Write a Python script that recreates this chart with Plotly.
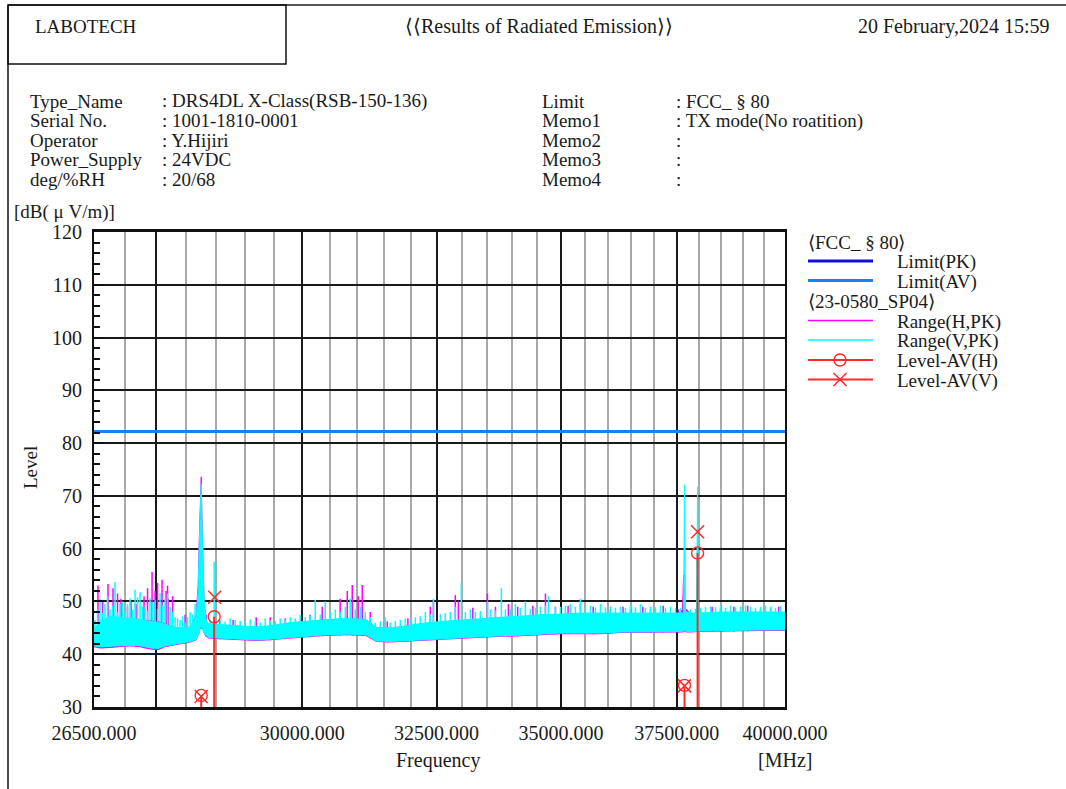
import numpy as np
import plotly.graph_objects as go

# ---------------------------------------------------------------------------
# Spectrum envelopes (MHz, dB(uV/m)) for the two antenna polarisations
# ---------------------------------------------------------------------------
band_freq = [26500, 26595, 26754, 26914, 27075, 27237, 27400, 27531, 27663, 27812,
             27978, 28063, 28163, 28197, 28214, 28231, 28248, 28264, 28281, 28298,
             28332, 28366, 28467, 28603, 28740, 29000, 29258, 29500, 29786, 30050,
             30325, 30780, 31150, 31242, 31354, 31617, 31805, 32186, 32574, 32984,
             33362, 33780, 34166, 34576, 35000, 35410, 35835, 36265, 36700, 37141,
             37541, 37631, 37654, 37675, 37698, 37721, 37815, 37901, 37946, 37970,
             37992, 38037, 38493, 38955, 39422, 40000]

v_low = [41.6, 41.4, 41.5, 41.6, 41.7, 41.6, 41.2, 41.1, 41.6, 41.9,
         42.2, 42.4, 42.8, 43.5, 44.0, 45.0, 45.0, 45.0, 44.5, 44.0,
         43.5, 43.2, 43.1, 43.0, 42.9, 42.8, 42.7, 42.9, 43.1, 43.3,
         43.6, 43.8, 43.7, 43.2, 42.5, 42.4, 42.5, 42.8, 43.0, 43.2,
         43.4, 43.5, 43.6, 43.8, 44.0, 44.0, 44.0, 44.2, 44.2, 44.3,
         44.3, 44.3, 44.4, 44.5, 44.4, 44.3, 44.3, 44.4, 44.4, 44.4,
         44.4, 44.4, 44.5, 44.5, 44.6, 44.6]
v_high = [44.8, 46.2, 47.2, 47.0, 46.8, 46.6, 46.2, 46.0, 45.6, 45.0,
          45.0, 45.2, 47.0, 52.0, 60.0, 68.0, 72.3, 63.0, 56.0, 50.0,
          46.5, 45.8, 45.7, 45.6, 45.4, 45.3, 45.2, 45.5, 46.0, 46.2,
          46.5, 46.8, 46.6, 46.0, 45.1, 45.0, 45.2, 45.8, 46.2, 46.5,
          46.8, 47.0, 47.2, 47.5, 47.6, 47.8, 47.8, 47.8, 47.8, 47.8,
          47.8, 47.8, 48.0, 72.1, 48.2, 48.0, 47.8, 47.8, 48.0, 71.7,
          48.0, 47.8, 48.0, 48.0, 48.0, 48.0]

h_low = [41.3, 41.1, 41.2, 41.4, 41.5, 41.3, 40.9, 40.8, 41.4, 41.7,
         42.0, 42.2, 42.6, 43.3, 43.8, 44.8, 44.8, 44.8, 44.3, 43.8,
         43.3, 43.0, 42.9, 42.8, 42.7, 42.6, 42.5, 42.7, 42.9, 43.1,
         43.4, 43.6, 43.5, 43.0, 42.3, 42.2, 42.3, 42.6, 42.8, 43.0,
         43.2, 43.3, 43.4, 43.6, 43.8, 43.8, 43.8, 44.0, 44.0, 44.1,
         44.1, 44.1, 44.2, 44.3, 44.2, 44.1, 44.1, 44.2, 44.2, 44.2,
         44.2, 44.2, 44.3, 44.3, 44.4, 44.4]
h_high = [44.6, 46.0, 47.0, 46.8, 46.6, 46.5, 46.4, 46.2, 45.8, 45.0,
          44.8, 45.0, 47.5, 53.0, 61.0, 69.0, 73.6, 64.0, 55.0, 49.5,
          46.0, 45.6, 45.6, 45.4, 45.3, 45.2, 45.1, 45.4, 45.8, 46.0,
          46.4, 46.7, 46.6, 46.0, 45.0, 45.0, 45.1, 45.6, 46.0, 46.3,
          46.6, 46.8, 47.0, 47.3, 47.4, 47.6, 47.6, 47.6, 47.6, 47.6,
          47.6, 48.5, 55.0, 52.0, 48.0, 48.5, 47.6, 47.6, 47.8, 50.0,
          47.8, 47.6, 47.8, 47.8, 47.8, 47.8]

# narrow peaks rising out of the noise floor (horizontal polarisation)
h_spike_freq = [26563, 26635, 26722, 26802, 26874, 26930, 27034, 27091, 27172, 27302,
                27359, 27433, 27482, 27523, 27597, 27663, 27687, 27696, 27770, 27978,
                28332, 28560, 28790, 29189, 29434, 29700, 30143, 30360, 30687, 30816,
                30908, 31018, 31093, 31242, 31560, 31950, 32380, 32440, 32866, 32926,
                33210, 33501, 33661, 33922, 34110, 34420, 34679, 34886, 35150, 35410,
                35680, 36049, 36320, 36482, 36750, 36920, 37200, 37541, 38037, 38300,
                38493, 38800, 39120, 39422, 39659, 39850]
h_spike_level = [53.0, 50.0, 53.3, 52.5, 51.5, 50.5, 49.0, 50.0, 49.5, 51.0,
                 52.5, 55.6, 52.0, 53.5, 54.1, 52.0, 53.0, 50.5, 51.0, 47.5,
                 47.5, 46.6, 46.5, 47.0, 47.0, 46.8, 47.5, 49.0, 50.5, 52.0,
                 53.1, 51.0, 53.1, 48.0, 46.2, 46.8, 49.0, 50.0, 51.2, 50.0,
                 48.8, 51.5, 49.0, 49.5, 49.0, 49.2, 51.5, 49.0, 49.2, 49.5,
                 49.0, 48.5, 49.0, 48.5, 49.0, 48.5, 49.2, 48.5, 48.5, 49.0,
                 48.7, 49.0, 49.2, 48.5, 48.8, 49.0]

# narrow peaks rising out of the noise floor (vertical polarisation)
v_spike_freq = [26516, 26556, 26595, 26635, 26674, 26714, 26754, 26794, 26834, 26874,
                26914, 26954, 26994, 27034, 27075, 27115, 27156, 27197, 27237, 27278,
                27318, 27359, 27400, 27441, 27482, 27523, 27564, 27605, 27646, 27687,
                27729, 27770, 27812, 27853, 27895, 27937, 27978, 28020, 28062, 28104,
                28146, 28314, 28399, 28467, 28569, 28654, 28740, 28826, 28912, 28998,
                29085, 29172, 29259, 29346, 29434, 29522, 29610, 29698, 29787, 29876,
                29965, 30054, 30144, 30234, 30324, 30415, 30506, 30597, 30688, 30780,
                30872, 30964, 31056, 31149, 31242, 31335, 31429, 31523, 31617, 31711,
                31806, 31901, 31996, 32092, 32187, 32284, 32380, 32440, 32574, 32671,
                32769, 32867, 32984, 33063, 33162, 33261, 33360, 33501, 33560, 33660,
                33780, 33861, 33962, 34063, 34165, 34267, 34369, 34472, 34575, 34678,
                34741, 34885, 34989, 35094, 35199, 35304, 35409, 35515, 35621, 35727,
                35834, 35941, 36048, 36156, 36264, 36372, 36481, 36590, 36699, 36808,
                36918, 37028, 37139, 37250, 37361, 37473, 37585, 37810, 37922, 38036,
                38149, 38263, 38377, 38492, 38607, 38722, 38838, 38953, 39070, 39186,
                39303, 39421, 39538, 39657, 39775, 39894]
v_spike_level = [46.5, 48.5, 50.5, 47.8, 49.5, 51.0, 48.5, 49.2, 53.7, 48.0,
                 49.5, 50.0, 48.0, 49.5, 50.6, 48.5, 52.2, 50.8, 51.8, 49.0,
                 49.0, 48.2, 50.6, 49.8, 50.2, 48.6, 51.6, 49.2, 50.5, 51.5,
                 49.0, 48.0, 47.0, 46.8, 46.5, 47.2, 46.0, 47.0, 48.0, 47.5,
                 49.5, 47.5, 46.5, 57.5, 46.5, 46.2, 46.8, 46.5, 46.3, 46.0,
                 46.6, 46.2, 46.0, 46.8, 46.4, 46.3, 46.8, 46.6, 47.0, 46.8,
                 47.5, 47.0, 47.3, 50.3, 47.5, 50.0, 48.0, 48.5, 48.0, 49.0,
                 50.5, 48.5, 49.0, 48.0, 47.0, 46.0, 46.2, 47.0, 46.0, 46.3,
                 46.5, 46.8, 46.5, 47.0, 47.2, 48.0, 47.5, 50.5, 47.6, 47.8,
                 48.0, 49.0, 53.5, 48.0, 48.5, 48.0, 48.2, 50.0, 48.5, 48.3,
                 52.5, 48.5, 48.6, 49.5, 48.8, 50.0, 48.6, 48.8, 49.0, 49.3,
                 51.0, 48.9, 49.0, 49.2, 49.5, 49.0, 50.5, 49.0, 49.2, 48.8,
                 49.5, 48.9, 49.0, 48.8, 49.0, 48.8, 49.2, 48.9, 49.5, 48.8,
                 49.0, 48.9, 49.2, 48.8, 49.0, 48.7, 48.8, 48.5, 48.6, 48.8,
                 49.0, 49.0, 48.9, 49.2, 48.8, 49.2, 48.9, 49.0, 49.3, 49.0,
                 48.8, 49.0, 49.2, 49.0, 48.8, 49.1]

# final average measurements
lvl_h_freq = [28248, 28467, 37675, 37970]
lvl_h = [32.2, 47.1, 34.1, 59.2]
lvl_v_freq = [28248, 28475, 37675, 37970]
lvl_v = [32.0, 50.8, 34.0, 63.2]

# limit lines
limit_freq = [26500, 40000]
limit_pk = [82.2, 82.2]
limit_av = [82.2, 82.2]

# axes
X_MIN, X_MAX = 26500, 40000
Y_MIN, Y_MAX = 30, 120
x_tick_vals = [26500, 27500, 30000, 32500, 35000, 37500, 40000]
x_tick_text = ["26500.000", "", "30000.000", "32500.000", "35000.000", "37500.000", "40000.000"]
x_minor_vals = [27000, 28000, 28500, 29000, 29500, 30500, 31000, 31500, 32000, 33000,
                33500, 34000, 34500, 35500, 36000, 36500, 37000, 38000, 38500, 39000, 39500]

# header texts
info_left_labels = ["Type_Name", "Serial No.", "Operator", "Power_Supply", "deg/%RH"]
info_left_values = [": DRS4DL X-Class(RSB-150-136)", ": 1001-1810-0001", ": Y.Hijiri",
                    ": 24VDC", ": 20/68"]
info_right_labels = ["Limit", "Memo1", "Memo2", "Memo3", "Memo4"]
info_right_values = [": FCC_ § 80", ": TX mode(No roatition)", ":", ":", ":"]

FONT = "Liberation Serif"
TXT = "#1a1a1a"
MAGENTA = "#ff00ff"
CYAN = "#00ffff"
RED = "#ff2a2a"
BLUE_PK = "#1010d8"
BLUE_AV = "#1e7ef0"

W, H = 1066, 789
PL, PR, PT, PB = 94, 785, 232, 707  # plot area in page pixels

fig = go.Figure()

# limit lines
fig.add_trace(go.Scatter(x=limit_freq, y=limit_pk, mode="lines",
                         line=dict(color=BLUE_PK, width=3)))
fig.add_trace(go.Scatter(x=limit_freq, y=limit_av, mode="lines",
                         line=dict(color=BLUE_AV, width=3)))


def add_band(freq, low, high, s_freq, s_level, color, low_width):
    fig.add_trace(go.Scatter(x=freq, y=low, mode="lines",
                             line=dict(color=color, width=low_width)))
    fig.add_trace(go.Scatter(x=freq, y=high, mode="lines", fill="tonexty",
                             fillcolor=color, line=dict(color=color, width=1)))
    base = np.interp(np.log10(s_freq), np.log10(freq), low)
    xs, ys = [], []
    for f, b, lv in zip(s_freq, base, s_level):
        xs += [f, f, None]
        ys += [b, lv, None]
    fig.add_trace(go.Scatter(x=xs, y=ys, mode="lines",
                             line=dict(color=color, width=1.5)))


add_band(band_freq, h_low, h_high, h_spike_freq, h_spike_level, MAGENTA, 0)
add_band(band_freq, v_low, v_high, v_spike_freq, v_spike_level, CYAN, 1)

# stems for the horizontal-polarisation results
sx, sy = [], []
for f, lv in zip(lvl_h_freq, lvl_h):
    sx += [f, f, None]
    sy += [lv, Y_MIN, None]
fig.add_trace(go.Scatter(x=sx, y=sy, mode="lines", line=dict(color=RED, width=2)))
fig.add_trace(go.Scatter(x=lvl_h_freq, y=lvl_h, mode="markers",
                         marker=dict(symbol="circle-open", size=12, color=RED,
                                     line=dict(width=1.4, color=RED))))
fig.add_trace(go.Scatter(x=lvl_v_freq, y=lvl_v, mode="markers",
                         marker=dict(symbol="x-thin-open", size=13, color=RED,
                                     line=dict(width=1.5, color=RED))))

# ---------------------------------------------------------------------------
# page furniture in pixel coordinates (x2 / y2)
# ---------------------------------------------------------------------------
shapes = []
annotations = []


def seg(x0, y0, x1, y1, color, width):
    shapes.append(dict(type="line", xref="x2", yref="y2", x0=x0, y0=y0, x1=x1, y1=y1,
                       line=dict(color=color, width=width)))


def text(x, y, s, anchor="left", size=19, angle=0):
    annotations.append(dict(xref="x2", yref="y2", x=x, y=y, text=s, showarrow=False,
                            xanchor=anchor, yanchor="middle", textangle=angle,
                            font=dict(family=FONT, size=size, color=TXT)))


# frame
seg(8, 5, W, 5, "#555555", 2)
seg(8, 5, 8, H, "#111111", 1.5)
shapes.append(dict(type="rect", xref="x2", yref="y2", x0=8, y0=5, x1=286, y1=64,
                   line=dict(color="#111111", width=1.5)))

text(33, 26, "LABOTECH")
text(539, 26, "⟨⟨Results of Radiated Emission⟩⟩", anchor="center", size=20)
text(1051, 26, "20 February,2024 15:59", anchor="right", size=20)

row_y = [101, 120.5, 140, 159.5, 179]
for yy, lab, val in zip(row_y, info_left_labels, info_left_values):
    text(28, yy, lab)
    text(160, yy, val)
for yy, lab, val in zip(row_y, info_right_labels, info_right_values):
    text(540, yy, lab)
    text(674, yy, val)

text(12, 212, "[dB( μ V/m)]")
text(30, 468, "Level", anchor="center", angle=-90)
text(438, 760, "Frequency", anchor="center", size=20)
text(785, 760, "[MHz]", anchor="center", size=20)

# legend
LX0, LX1, LT = 808, 873, 895
text(806, 242, "⟨FCC_ § 80⟩")
seg(LX0, 261, LX1, 261, BLUE_PK, 3)
text(LT, 262, "Limit(PK)")
seg(LX0, 280.5, LX1, 280.5, BLUE_AV, 3)
text(LT, 281.5, "Limit(AV)")
text(806, 301, "⟨23-0580_SP04⟩")
seg(LX0, 320.5, LX1, 320.5, MAGENTA, 1.5)
text(LT, 321.5, "Range(H,PK)")
seg(LX0, 340, LX1, 340, CYAN, 1.5)
text(LT, 341, "Range(V,PK)")
seg(LX0, 360, LX1, 360, RED, 2)
text(LT, 361, "Level-AV(H)")
seg(LX0, 379.5, LX1, 379.5, RED, 2)
text(LT, 380.5, "Level-AV(V)")

fig.add_trace(go.Scatter(x=[840], y=[360], mode="markers", xaxis="x2", yaxis="y2",
                         marker=dict(symbol="circle-open", size=12, color=RED,
                                     line=dict(width=1.4, color=RED))))
fig.add_trace(go.Scatter(x=[840], y=[379.5], mode="markers", xaxis="x2", yaxis="y2",
                         marker=dict(symbol="x-thin-open", size=13, color=RED,
                                     line=dict(width=1.5, color=RED))))

tick_font = dict(family=FONT, size=20, color=TXT)
fig.update_layout(
    template="none",
    width=W, height=H, autosize=False,
    margin=dict(l=0, r=0, t=0, b=0, pad=0, autoexpand=False),
    paper_bgcolor="white", plot_bgcolor="rgba(0,0,0,0)",
    showlegend=False,
    font=dict(family=FONT, size=19, color=TXT),
    shapes=shapes, annotations=annotations,
    xaxis=dict(domain=[PL / W, PR / W], anchor="y", type="log", automargin=False,
               range=[np.log10(X_MIN), np.log10(X_MAX)],
               tickmode="array", tickvals=x_tick_vals, ticktext=x_tick_text,
               tickfont=tick_font, ticks="", showgrid=True, gridcolor="#1a1a1a",
               gridwidth=1.5, zeroline=False, showline=True, linecolor="#111111",
               linewidth=2.5, mirror=True, ticklabelstandoff=6,
               minor=dict(tickmode="array", tickvals=x_minor_vals, showgrid=True,
                          gridcolor="#a9a9a9", gridwidth=1.5, ticks="")),
    yaxis=dict(domain=[1 - PB / H, 1 - PT / H], anchor="x", automargin=False,
               range=[Y_MIN, Y_MAX], tickmode="linear", tick0=Y_MIN, dtick=10,
               tickfont=tick_font, ticks="inside", ticklen=10, tickwidth=1.5,
               tickcolor="#111111", showgrid=True, gridcolor="#1a1a1a", gridwidth=1.5,
               zeroline=False, showline=True, linecolor="#111111", linewidth=2,
               mirror=True, ticklabelstandoff=6,
               minor=dict(dtick=2, tick0=Y_MIN, ticks="inside", ticklen=6, tickwidth=1.5,
                          tickcolor="#111111", showgrid=False)),
    xaxis2=dict(domain=[0, 1], range=[0, W], visible=False, anchor="y2",
                fixedrange=True, automargin=False),
    yaxis2=dict(domain=[0, 1], range=[H, 0], visible=False, anchor="x2",
                fixedrange=True, automargin=False),
)

fig.write_html("out.html")
